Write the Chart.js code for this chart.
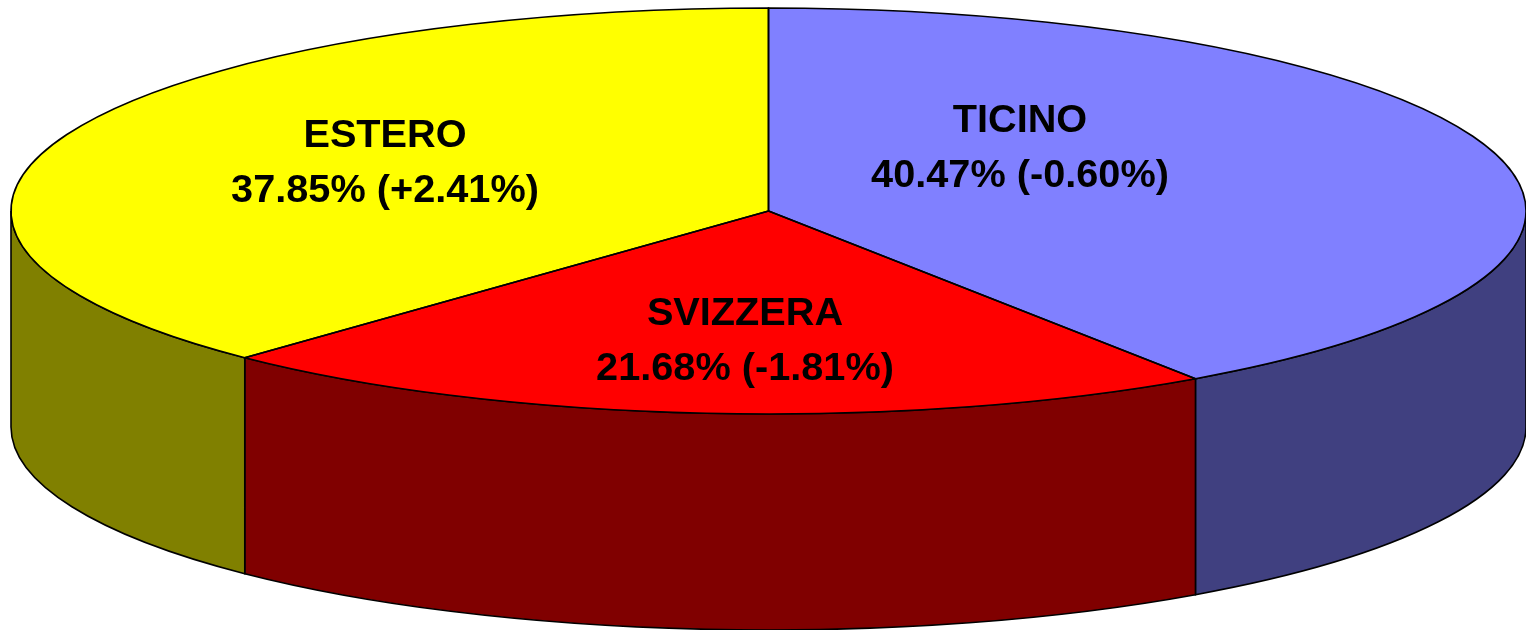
<!DOCTYPE html>
<html>
<head>
<meta charset="utf-8">
<style>
  html, body { margin: 0; padding: 0; background: #fff; }
  canvas { display: block; }
</style>
<script src="https://cdn.jsdelivr.net/npm/chart.js@4"></script>
</head>
<body>
<canvas id="pie" width="1526" height="630"></canvas>
<script>
const categories = ['TICINO', 'SVIZZERA', 'ESTERO'];
const shares = [40.47, 21.68, 37.85];
const changes = ['-0.60', '-1.81', '+2.41'];
const topColors = ['#8080FF', '#FF0000', '#FFFF00'];
const wallColors = ['#404080', '#800000', '#808000'];

// ellipse the flat pie gets squashed onto
const CX = 768.5, CY = 211, RX = 757.5, RY = 203, DEPTH = 216;
const LINE_WIDTH = 1.6;
const LABEL_FONT = 'bold 39.7px "Liberation Sans", Arial, sans-serif';
const labelCentres = [[1020, 121], [745, 314], [385, 136]];

function wallPath(ctx, a, b) {
  ctx.beginPath();
  ctx.ellipse(CX, CY, RX, RY, 0, a, b);
  ctx.lineTo(CX + RX * Math.cos(b), CY + RY * Math.sin(b) + DEPTH);
  ctx.ellipse(CX, CY + DEPTH, RX, RY, 0, b, a, true);
  ctx.closePath();
}

const pie3d = {
  id: 'pie3d',
  beforeDatasetsDraw(chart) {
    const ctx = chart.ctx;
    const arcs = chart.getDatasetMeta(0).data;
    // side walls, only the front half of the rim shows
    arcs.forEach((arc, i) => {
      const a = Math.max(arc.startAngle, 0);
      const b = Math.min(arc.endAngle, Math.PI);
      if (b <= a) return;
      wallPath(ctx, a, b);
      ctx.fillStyle = wallColors[i];
      ctx.fill();
      ctx.strokeStyle = '#000';
      ctx.lineWidth = LINE_WIDTH;
      ctx.stroke();
    });
    const { x, y, outerRadius } = arcs[0];
    ctx.save();
    ctx.translate(CX, CY);
    ctx.scale(RX / outerRadius, RY / outerRadius);
    ctx.translate(-x, -y);
  },
  afterDatasetsDraw(chart) {
    const ctx = chart.ctx;
    ctx.restore();
    // outlines here so the line width is not squashed too
    chart.getDatasetMeta(0).data.forEach(arc => {
      ctx.beginPath();
      ctx.moveTo(CX, CY);
      ctx.ellipse(CX, CY, RX, RY, 0, arc.startAngle, arc.endAngle);
      ctx.closePath();
      ctx.strokeStyle = '#000';
      ctx.lineWidth = LINE_WIDTH;
      ctx.stroke();
    });
    ctx.fillStyle = '#000';
    ctx.font = LABEL_FONT;
    ctx.textAlign = 'center';
    ctx.textBaseline = 'middle';
    categories.forEach((name, i) => {
      const [lx, ly] = labelCentres[i];
      ctx.fillText(name, lx, ly);
      ctx.fillText(`${shares[i].toFixed(2)}% (${changes[i]}%)`, lx, ly + 55);
    });
  }
};

new Chart(document.getElementById('pie'), {
  type: 'pie',
  data: {
    labels: categories,
    datasets: [{
      data: shares,
      backgroundColor: topColors,
      borderWidth: 0
    }]
  },
  options: {
    responsive: false,
    animation: false,
    events: [],
    plugins: {
      legend: { display: false },
      tooltip: { enabled: false }
    }
  },
  plugins: [pie3d]
});
</script>
</body>
</html>
